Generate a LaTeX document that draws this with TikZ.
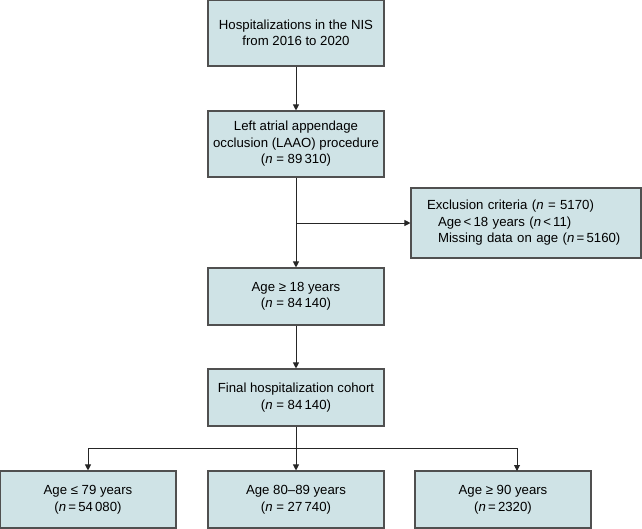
\documentclass[tikz,border=0pt]{standalone}
\usepackage{fontspec}
\setmainfont{Liberation Sans}
\usetikzlibrary{arrows.meta}
\definecolor{boxfill}{RGB}{207,227,230}
\definecolor{boxline}{RGB}{80,80,80}
\tikzset{
  x=1pt,y=1pt,
  fbox/.style={draw=boxline, fill=boxfill, line width=1.1pt, minimum width=176pt, inner sep=0pt, align=center, font=\fontsize{13.2}{16.5}\selectfont},
  conn/.style={draw=black!85, line width=0.9pt},
  arr/.style={conn, -{Triangle[length=6pt,width=6pt]}}
}
\begin{document}
\begin{tikzpicture}
\useasboundingbox (0,0) rectangle (642,-528);
\node[fbox, minimum height=66pt] (b1) at (296,-33) {Hospitalizations in the NIS\\from 2016 to 2020};
\node[fbox, minimum height=66pt] (b2) at (296,-144) {Left atrial appendage\\occlusion (LAAO) procedure\\(\textit{n} = 89\,310)};
\node[fbox, minimum height=70pt, text width=198pt, inner xsep=16pt, align=left] (ex) at (526,-223) {Exclusion criteria (\textit{n} = 5170)\\\hspace*{11pt}Age\,<\,18 years (\textit{n}\,<\,11)\\\hspace*{11pt}Missing data on age (\textit{n}\,=\,5160)};
\node[fbox, minimum height=57pt] (b3) at (296,-296.5) {Age ≥ 18 years\\(\textit{n} = 84\,140)};
\node[fbox, minimum height=57pt] (b4) at (296,-397.5) {Final hospitalization cohort\\(\textit{n} = 84\,140)};
\node[fbox, minimum height=57pt] (c1) at (88,-499.5) {Age ≤ 79 years\\(\textit{n}\,=\,54\,080)};
\node[fbox, minimum height=57pt] (c2) at (296,-499.5) {Age 80–89 years\\(\textit{n} = 27\,740)};
\node[fbox, minimum height=57pt] (c3) at (503,-499.5) {Age ≥ 90 years\\(\textit{n}\,=\,2320)};
\coordinate (br) at (296,-223);
\coordinate (sp) at (296,-448);
\coordinate (c3t) at (517,-471);
\draw[arr] (b1) -- (b2);
\draw[arr] (b2) -- (b3);
\draw[arr] (br) -- (ex.west);
\draw[arr] (b3) -- (b4);
\draw[arr] (b4) -- (c2);
\draw[arr] (sp) -| (c1.north);
\draw[arr] (sp) -| (c3t);
\end{tikzpicture}
\end{document}
